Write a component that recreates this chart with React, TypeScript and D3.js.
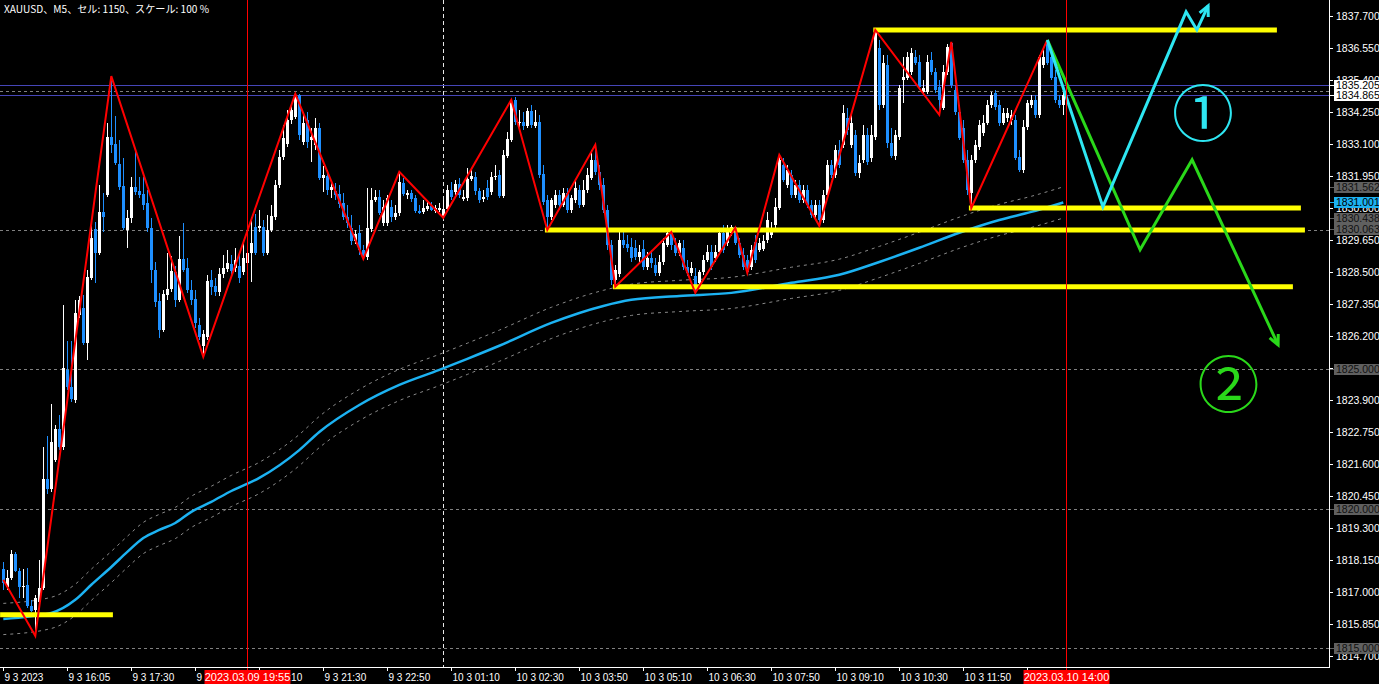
import React from 'react'
import * as d3 from 'd3'

const WIDTH = 1379
const HEIGHT = 684
const PLOT_RIGHT = 1329
const PLOT_BOTTOM = 667

const TITLE = 'XAUUSD、M5、セル: 1150、スケール: 100 %'

// open, high, low, close  (XAUUSD M5, 9 Mar 2023 ~14:45 -> 10 Mar 13:55)
const CANDLES: number[][] = [
  [1817.83, 1818.08, 1817.08, 1817.33], [1817.18, 1817.79, 1817.08, 1817.51], [1817.51, 1818.51, 1817.44, 1818.37],
  [1818.37, 1818.44, 1817.72, 1817.76], [1817.76, 1817.87, 1816.79, 1817.18], [1817.18, 1817.83, 1816.79, 1817.22],
  [1817.26, 1817.87, 1816.43, 1816.50], [1816.50, 1816.72, 1816.29, 1816.32], [1816.36, 1816.90, 1815.42, 1816.79],
  [1816.64, 1818.15, 1816.57, 1817.15], [1817.15, 1822.21, 1817.08, 1821.07], [1821.07, 1822.61, 1820.53, 1820.71],
  [1820.71, 1823.76, 1820.60, 1822.39], [1821.75, 1823.00, 1821.68, 1822.86], [1822.86, 1823.36, 1822.10, 1822.21],
  [1822.21, 1827.32, 1822.10, 1825.05], [1824.98, 1826.02, 1824.26, 1824.37], [1824.37, 1826.02, 1823.83, 1823.94],
  [1823.90, 1827.50, 1823.79, 1827.03], [1826.96, 1827.64, 1826.85, 1827.50], [1827.21, 1827.68, 1825.88, 1825.95],
  [1825.95, 1828.58, 1825.34, 1828.32], [1828.29, 1830.27, 1828.22, 1829.73], [1830.05, 1830.30, 1828.11, 1829.19],
  [1829.19, 1831.63, 1829.12, 1830.66], [1830.66, 1831.34, 1829.94, 1830.48], [1831.27, 1833.86, 1831.20, 1833.36],
  [1833.36, 1835.54, 1832.78, 1833.07], [1833.11, 1834.11, 1832.35, 1832.42], [1832.39, 1833.25, 1831.45, 1831.56],
  [1831.60, 1832.60, 1830.01, 1830.09], [1830.01, 1830.73, 1829.37, 1830.45], [1830.45, 1831.92, 1830.27, 1831.56],
  [1831.56, 1832.89, 1831.27, 1831.38], [1831.42, 1831.92, 1831.16, 1831.27], [1831.31, 1831.92, 1830.73, 1830.91],
  [1830.98, 1831.45, 1829.94, 1830.09], [1830.09, 1830.45, 1828.11, 1828.58], [1828.58, 1828.86, 1827.25, 1827.43],
  [1827.46, 1827.75, 1826.13, 1826.42], [1826.42, 1827.86, 1826.35, 1827.71], [1827.68, 1829.19, 1827.50, 1827.89],
  [1827.89, 1829.08, 1827.79, 1828.54], [1828.50, 1828.72, 1827.25, 1827.50], [1827.50, 1829.80, 1827.43, 1828.97],
  [1828.97, 1830.27, 1828.50, 1828.58], [1828.65, 1829.01, 1827.75, 1827.86], [1827.86, 1828.22, 1827.32, 1827.50],
  [1827.53, 1827.86, 1826.49, 1826.67], [1826.60, 1826.85, 1826.06, 1826.17], [1825.85, 1826.42, 1825.45, 1826.28],
  [1826.17, 1828.40, 1826.06, 1828.18], [1828.22, 1828.58, 1827.68, 1827.97], [1828.00, 1828.29, 1827.64, 1827.79],
  [1827.79, 1828.65, 1827.64, 1828.43], [1828.43, 1829.12, 1828.29, 1828.65], [1828.61, 1829.30, 1828.50, 1828.83],
  [1828.79, 1829.12, 1828.40, 1828.54], [1828.65, 1829.37, 1828.50, 1828.94], [1828.72, 1829.12, 1828.11, 1828.29],
  [1828.50, 1829.65, 1828.40, 1829.01], [1828.83, 1830.55, 1828.72, 1829.19], [1829.19, 1830.48, 1828.15, 1829.55],
  [1830.12, 1830.59, 1829.12, 1829.19], [1830.09, 1830.73, 1829.94, 1830.16], [1830.12, 1830.37, 1829.08, 1829.19],
  [1829.19, 1830.55, 1829.12, 1830.01], [1830.01, 1830.91, 1829.94, 1830.52], [1830.48, 1831.81, 1830.37, 1831.63],
  [1831.63, 1832.89, 1831.52, 1832.64], [1832.64, 1833.79, 1832.53, 1833.32], [1833.11, 1834.33, 1833.00, 1833.97],
  [1833.97, 1834.51, 1833.82, 1834.33], [1834.08, 1834.90, 1834.00, 1834.76], [1834.87, 1834.90, 1833.25, 1833.43],
  [1833.18, 1834.15, 1833.07, 1833.86], [1833.97, 1834.26, 1832.96, 1833.18], [1833.25, 1833.68, 1832.46, 1833.36],
  [1833.07, 1834.04, 1832.89, 1833.68], [1833.68, 1833.86, 1831.81, 1831.88], [1831.88, 1832.31, 1831.38, 1831.99],
  [1831.95, 1832.17, 1831.27, 1831.45], [1831.45, 1831.70, 1831.16, 1831.56], [1831.42, 1831.70, 1831.09, 1831.27],
  [1831.31, 1831.63, 1830.80, 1830.95], [1830.98, 1831.34, 1830.37, 1830.48], [1830.48, 1830.91, 1830.09, 1830.27],
  [1830.09, 1830.55, 1829.48, 1829.62], [1829.62, 1830.01, 1829.51, 1829.87], [1829.91, 1830.19, 1829.12, 1829.30],
  [1829.30, 1829.48, 1828.97, 1829.04], [1829.04, 1831.52, 1828.94, 1830.09], [1830.05, 1831.52, 1829.94, 1831.09],
  [1831.09, 1831.45, 1831.02, 1831.20], [1831.20, 1831.45, 1830.55, 1830.62], [1830.27, 1831.09, 1830.16, 1830.84],
  [1830.27, 1831.27, 1830.16, 1831.16], [1830.84, 1831.09, 1830.30, 1830.48], [1830.48, 1830.91, 1830.37, 1830.62],
  [1830.62, 1832.10, 1830.52, 1831.74], [1831.70, 1831.88, 1831.24, 1831.31], [1831.27, 1831.45, 1831.13, 1831.34],
  [1831.34, 1831.45, 1831.02, 1831.13], [1831.16, 1831.27, 1830.62, 1830.70], [1830.70, 1830.91, 1830.59, 1830.62],
  [1830.66, 1831.09, 1830.59, 1830.80], [1830.77, 1831.09, 1830.70, 1830.88], [1830.88, 1831.02, 1830.70, 1830.73],
  [1830.70, 1830.91, 1830.62, 1830.80], [1830.73, 1830.98, 1830.66, 1830.80], [1830.48, 1831.09, 1830.45, 1830.77],
  [1830.77, 1831.63, 1830.66, 1831.45], [1831.45, 1831.74, 1831.09, 1831.20], [1831.38, 1831.81, 1831.27, 1831.67],
  [1831.67, 1831.88, 1831.16, 1831.27], [1831.13, 1831.45, 1831.06, 1831.20], [1831.16, 1832.24, 1831.06, 1831.85],
  [1831.85, 1832.24, 1831.78, 1831.95], [1831.92, 1832.10, 1831.27, 1831.42], [1831.42, 1831.52, 1830.98, 1831.09],
  [1831.13, 1831.45, 1831.02, 1831.20], [1831.52, 1831.81, 1831.09, 1831.20], [1831.38, 1832.10, 1831.27, 1831.92],
  [1831.92, 1832.35, 1831.81, 1831.95], [1831.99, 1832.17, 1831.16, 1831.24], [1831.24, 1832.89, 1831.16, 1832.71],
  [1832.67, 1833.54, 1832.60, 1833.28], [1833.25, 1834.69, 1833.18, 1834.61], [1834.69, 1834.79, 1833.79, 1833.90],
  [1833.86, 1834.33, 1833.68, 1833.90], [1833.90, 1834.26, 1833.61, 1833.75], [1833.75, 1834.40, 1833.68, 1834.29],
  [1834.29, 1834.51, 1833.68, 1833.79], [1833.75, 1834.33, 1833.68, 1833.90], [1833.90, 1834.15, 1831.88, 1831.99],
  [1832.03, 1832.35, 1830.91, 1831.02], [1831.09, 1831.27, 1830.01, 1830.48], [1830.48, 1831.16, 1830.37, 1831.09],
  [1830.91, 1831.45, 1830.80, 1831.27], [1831.27, 1831.45, 1830.73, 1830.91], [1830.91, 1831.52, 1830.84, 1831.34],
  [1831.34, 1831.52, 1830.62, 1830.73], [1830.73, 1831.27, 1830.62, 1831.16], [1831.09, 1831.81, 1830.98, 1831.52],
  [1831.45, 1831.63, 1830.80, 1830.91], [1830.91, 1831.81, 1830.84, 1831.45], [1831.45, 1832.24, 1831.34, 1831.99],
  [1831.88, 1832.89, 1831.81, 1832.53], [1832.53, 1833.07, 1831.99, 1832.10], [1832.10, 1832.35, 1831.45, 1831.63],
  [1831.63, 1831.88, 1830.62, 1830.73], [1830.73, 1830.91, 1829.30, 1829.48], [1829.48, 1829.65, 1828.04, 1828.22],
  [1828.22, 1828.76, 1827.93, 1828.58], [1828.43, 1830.09, 1828.32, 1829.65], [1829.65, 1830.01, 1829.37, 1829.48],
  [1829.51, 1829.83, 1829.22, 1829.37], [1829.40, 1829.73, 1828.86, 1829.01], [1829.37, 1829.65, 1828.94, 1829.04],
  [1829.04, 1829.48, 1828.86, 1829.22], [1829.33, 1829.65, 1828.58, 1828.68], [1828.68, 1829.22, 1828.58, 1829.01],
  [1829.01, 1829.30, 1828.65, 1828.83], [1828.76, 1829.01, 1828.36, 1828.47], [1828.47, 1829.12, 1828.36, 1828.86],
  [1828.86, 1829.73, 1828.76, 1829.55], [1829.48, 1830.09, 1829.40, 1829.91], [1829.91, 1829.98, 1829.30, 1829.48],
  [1829.48, 1829.73, 1829.08, 1829.19], [1829.19, 1829.65, 1829.08, 1829.55], [1829.37, 1829.65, 1828.58, 1828.68],
  [1828.68, 1828.94, 1828.36, 1828.47], [1828.47, 1828.86, 1828.36, 1828.65], [1828.36, 1828.65, 1827.75, 1827.86],
  [1828.11, 1828.58, 1827.93, 1828.50], [1828.50, 1829.12, 1828.40, 1828.94], [1828.94, 1829.48, 1828.86, 1829.22],
  [1829.22, 1829.48, 1828.58, 1828.68], [1829.01, 1829.48, 1828.86, 1829.22], [1829.22, 1830.09, 1829.12, 1829.91],
  [1829.91, 1830.19, 1829.19, 1829.30], [1829.55, 1830.19, 1829.44, 1830.01], [1829.91, 1830.19, 1829.80, 1830.12],
  [1830.12, 1830.12, 1829.48, 1829.55], [1829.55, 1829.73, 1829.01, 1829.12], [1829.12, 1829.37, 1828.58, 1828.68],
  [1828.94, 1829.12, 1828.47, 1828.50], [1828.68, 1829.48, 1828.58, 1829.30], [1829.58, 1829.83, 1828.83, 1828.94],
  [1829.30, 1829.73, 1829.22, 1829.55], [1829.33, 1829.83, 1829.26, 1829.62], [1829.65, 1830.66, 1829.55, 1830.37],
  [1829.83, 1830.30, 1829.73, 1829.94], [1830.19, 1831.16, 1830.09, 1830.84], [1830.80, 1832.71, 1830.73, 1832.53],
  [1832.35, 1832.60, 1831.74, 1831.81], [1831.63, 1832.35, 1831.52, 1832.17], [1831.99, 1832.17, 1831.16, 1831.27],
  [1831.27, 1831.81, 1831.16, 1831.63], [1831.63, 1831.81, 1830.98, 1831.09], [1831.09, 1831.63, 1830.98, 1831.45],
  [1831.45, 1831.63, 1830.80, 1830.91], [1830.91, 1831.09, 1830.45, 1830.55], [1830.55, 1831.09, 1830.45, 1830.91],
  [1830.91, 1831.09, 1830.16, 1830.37], [1830.37, 1831.45, 1830.27, 1831.27], [1831.27, 1832.53, 1831.16, 1832.35],
  [1832.35, 1832.53, 1831.88, 1831.99], [1831.99, 1833.07, 1831.88, 1832.89], [1832.89, 1833.25, 1832.24, 1832.35],
  [1833.07, 1834.51, 1832.96, 1834.22], [1834.04, 1834.40, 1833.43, 1833.61], [1833.07, 1834.15, 1832.96, 1833.86],
  [1833.43, 1833.61, 1831.95, 1832.06], [1832.06, 1832.71, 1831.88, 1832.42], [1832.53, 1833.79, 1832.42, 1833.43],
  [1833.43, 1833.68, 1832.35, 1832.46], [1832.60, 1833.79, 1832.46, 1833.43], [1833.36, 1837.20, 1833.25, 1837.13],
  [1836.55, 1836.84, 1834.33, 1834.51], [1834.51, 1836.30, 1834.40, 1836.02], [1835.94, 1836.30, 1832.96, 1833.14],
  [1833.14, 1833.68, 1832.60, 1832.67], [1832.67, 1833.61, 1832.53, 1833.43], [1833.36, 1835.22, 1833.25, 1835.12],
  [1835.40, 1836.23, 1834.58, 1835.51], [1835.47, 1836.41, 1835.40, 1836.23], [1835.69, 1836.55, 1835.58, 1836.37],
  [1836.23, 1836.48, 1835.94, 1836.02], [1836.05, 1836.30, 1835.04, 1835.15], [1834.97, 1835.40, 1834.87, 1835.12],
  [1834.97, 1836.30, 1834.90, 1836.05], [1836.12, 1836.41, 1835.58, 1835.69], [1835.69, 1835.84, 1834.94, 1835.04],
  [1835.15, 1835.40, 1834.15, 1834.69], [1834.40, 1835.94, 1834.33, 1835.69], [1835.69, 1836.70, 1835.58, 1836.59],
  [1836.73, 1836.77, 1835.12, 1835.22], [1835.04, 1835.22, 1834.15, 1834.26], [1834.26, 1834.51, 1833.25, 1833.32],
  [1833.68, 1833.97, 1832.42, 1832.53], [1832.53, 1832.89, 1831.27, 1831.45], [1831.34, 1832.71, 1830.80, 1832.53],
  [1832.53, 1833.25, 1832.42, 1833.07], [1833.00, 1833.97, 1832.89, 1833.79], [1833.50, 1834.15, 1833.39, 1833.86],
  [1833.86, 1834.69, 1833.79, 1834.51], [1834.51, 1834.97, 1834.40, 1834.87], [1834.94, 1835.04, 1834.33, 1834.43],
  [1834.51, 1834.69, 1833.75, 1833.86], [1833.86, 1834.40, 1833.79, 1834.22], [1834.04, 1834.40, 1833.90, 1834.22],
  [1833.97, 1834.33, 1833.79, 1834.15], [1833.97, 1834.15, 1832.53, 1832.60], [1832.64, 1832.89, 1832.10, 1832.17],
  [1832.17, 1833.97, 1832.06, 1833.72], [1833.72, 1834.69, 1833.61, 1834.58], [1834.51, 1834.87, 1834.40, 1834.69],
  [1834.69, 1834.87, 1834.04, 1834.15], [1834.15, 1836.30, 1834.04, 1836.23], [1835.94, 1836.48, 1835.84, 1836.23],
  [1836.77, 1836.84, 1835.94, 1836.02], [1836.23, 1836.48, 1835.40, 1835.47], [1835.51, 1835.76, 1834.58, 1834.69],
  [1834.69, 1834.87, 1834.40, 1834.51], [1834.51, 1835.04, 1834.15, 1834.87],
]

// moving average: [bar index, price]
const MA_POINTS: [number, number][] = [
  [0, 1816.03], [12, 1816.25], [18, 1816.72], [22, 1817.26], [27, 1817.90], [31, 1818.44], [35, 1818.94],
  [39, 1819.23], [43, 1819.48], [47, 1819.88], [52, 1820.24], [57, 1820.63], [64, 1821.10], [74, 1822.10],
  [79, 1822.75], [89, 1823.72], [99, 1824.44], [109, 1824.98], [116, 1825.38], [124, 1825.85], [137, 1826.67],
  [150, 1827.28], [157, 1827.50], [169, 1827.64], [182, 1827.75], [197, 1828.11], [209, 1828.40], [219, 1828.86],
  [229, 1829.37], [239, 1829.91], [249, 1830.37], [257, 1830.66], [265, 1831.00],
]
const ENVELOPE = 0.561

const ZIGZAG: [number, number][] = [
  [0, 1817.44], [8, 1815.42], [27, 1835.54], [50, 1825.45], [73, 1834.90], [90, 1828.97], [99, 1832.10],
  [110, 1830.45], [127, 1834.69], [136, 1830.01], [148, 1833.07], [153, 1827.97], [167, 1829.94], [173, 1827.75],
  [183, 1830.09], [186, 1828.47], [194, 1832.71], [204, 1830.16], [218, 1837.20], [234, 1834.15], [237, 1836.77],
  [242, 1830.80], [261, 1836.84],
]

// yellow trend lines: [from bar, to bar, price]
const LEVELS: [number, number, number][] = [
  [217.5, 318.4, 1837.20], [241.4, 324.4, 1830.80], [135.4, 325.4, 1830.01], [152.4, 322.4, 1827.97], [-0.8, 27.4, 1816.18],
]

const SCENARIO_1: [number, number][] = [[261, 1836.84], [274.9, 1830.84], [295.7, 1837.85], [298.4, 1837.20], [301.2, 1838.06]]
const SCENARIO_2: [number, number][] = [[261, 1836.84], [284.2, 1829.30], [297.2, 1832.53], [318.7, 1825.88]]
const SCENARIO_LABELS: [number, number, string, string][] = [
  [299.9, 1834.32, '①', '#2ee6f2'], [306.3, 1824.60, '②', '#2ad81a'],
]

const PRICE_TICKS = [
  1837.7, 1836.55, 1835.4, 1834.25, 1833.1, 1831.95, 1830.8, 1829.65, 1828.5, 1827.35, 1826.2, 1825.05,
  1823.9, 1822.75, 1821.6, 1820.45, 1819.3, 1818.15, 1817.0, 1815.85, 1814.7,
]
const ROUND_LEVELS = [1835, 1830, 1825, 1820, 1815]
const PRICE_LINES = [1835.205, 1834.865]
// price tags on the right scale: [price, background, text]
const PRICE_TAGS: [number, string, string][] = [
  [1835.205, '#ffffff', '#000000'], [1834.865, '#ffffff', '#000000'], [1831.562, '#606060', '#101010'],
  [1831.001, '#1cb2f2', '#000000'], [1830.438, '#606060', '#101010'], [1830.063, '#606060', '#101010'],
  [1825.0, '#606060', '#101010'], [1820.0, '#606060', '#101010'], [1815.0, '#606060', '#101010'],
]

const TIME_TICKS: [number, string][] = [
  [0, '9 3 2023'], [16, '9 3 16:05'], [32, '9 3 17:30'], [48, '9 3 18:50'], [64, '9 3 20:10'], [80, '9 3 21:30'],
  [96, '9 3 22:50'], [112, '10 3 01:10'], [128, '10 3 02:30'], [144, '10 3 03:50'], [160, '10 3 05:10'],
  [176, '10 3 06:30'], [192, '10 3 07:50'], [208, '10 3 09:10'], [224, '10 3 10:30'], [240, '10 3 11:50'],
  [256, '10 3 13:10'],
]
const DAY_BREAKS = [110]
const CURSOR_MARKS: [number, string][] = [[61.1, '2023.03.09 19:55'], [265.9, '2023.03.10 14:00']]

const FONT = '"Liberation Sans", Arial, sans-serif'

function arrowHead(pts: [number, number][], len = 11, spread = 0.45) {
  const [x1, y1] = pts[pts.length - 2]
  const [x2, y2] = pts[pts.length - 1]
  const a = Math.atan2(y1 - y2, x1 - x2)
  const p1 = [x2 + len * Math.cos(a + spread), y2 + len * Math.sin(a + spread)]
  const p2 = [x2 + len * Math.cos(a - spread), y2 + len * Math.sin(a - spread)]
  return `M${p1[0]},${p1[1]}L${x2},${y2}L${p2[0]},${p2[1]}`
}

export default function App() {
  const x = d3.scaleLinear().domain([0, 331]).range([3.3, 3.3 + 4 * 331])
  const y = d3.scaleLinear().domain([1814.305, 1838.275]).range([PLOT_BOTTOM, 0])

  const maLine = d3.line<[number, number]>().x(d => x(d[0])).y(d => y(d[1])).curve(d3.curveMonotoneX)
  const upper = MA_POINTS.map(([i, p]) => [i, p + ENVELOPE] as [number, number])
  const lower = MA_POINTS.map(([i, p]) => [i, p - ENVELOPE] as [number, number])
  const poly = d3.line<[number, number]>().x(d => x(d[0])).y(d => y(d[1]))
  const px = (pts: [number, number][]) => pts.map(([i, p]) => [x(i), y(p)] as [number, number])

  return (
    <svg width={WIDTH} height={HEIGHT} style={{ position: 'absolute', left: 0, top: 0, display: 'block' }}>
      <rect width={WIDTH} height={HEIGHT} fill="#000" />

      {ROUND_LEVELS.map(p => (
        <line key={p} x1={0} x2={PLOT_RIGHT} y1={Math.round(y(p)) + 0.5} y2={Math.round(y(p)) + 0.5}
          stroke="#808080" strokeDasharray="3,3" />
      ))}
      {DAY_BREAKS.map(i => (
        <line key={i} x1={Math.floor(x(i)) + 0.5} x2={Math.floor(x(i)) + 0.5} y1={0} y2={PLOT_BOTTOM}
          stroke="#e8e8e8" strokeDasharray="4,3" />
      ))}
      {PRICE_LINES.map(p => (
        <line key={p} x1={0} x2={PLOT_RIGHT} y1={Math.round(y(p)) + 0.5} y2={Math.round(y(p)) + 0.5}
          stroke="#4646b8" strokeWidth={1.2} />
      ))}

      <path d={maLine(upper) || ''} fill="none" stroke="#8a8a8a" strokeDasharray="3,4" />
      <path d={maLine(lower) || ''} fill="none" stroke="#8a8a8a" strokeDasharray="3,4" />
      <path d={maLine(MA_POINTS) || ''} fill="none" stroke="#1cb2f2" strokeWidth={2.5} />

      {CANDLES.map(([o, h, l, c], i) => {
        const cx = Math.floor(x(i))
        const bull = c >= o
        const col = bull ? '#ffffff' : '#1e8fff'
        const top = Math.round(y(Math.max(o, c)))
        const bot = Math.round(y(Math.min(o, c)))
        return (
          <g key={i}>
            <line x1={cx + 0.5} x2={cx + 0.5} y1={Math.round(y(h))} y2={Math.round(y(l))} stroke={col} />
            <rect x={cx - 1} y={top} width={3} height={Math.max(1, bot - top)} fill={col} />
          </g>
        )
      })}

      {LEVELS.map(([a, b, p], k) => (
        <line key={k} x1={x(a)} x2={x(b)} y1={y(p)} y2={y(p)} stroke="#ffff00" strokeWidth={5} />
      ))}

      <path d={poly(ZIGZAG) || ''} fill="none" stroke="#ff0000" strokeWidth={2} />

      <path d={poly(SCENARIO_2) || ''} fill="none" stroke="#2ad81a" strokeWidth={3} />
      <path d={arrowHead(px(SCENARIO_2))} fill="none" stroke="#2ad81a" strokeWidth={3} />
      <path d={poly(SCENARIO_1) || ''} fill="none" stroke="#2ee6f2" strokeWidth={3} />
      <path d={arrowHead(px(SCENARIO_1))} fill="none" stroke="#2ee6f2" strokeWidth={3} />

      {SCENARIO_LABELS.map(([i, p, t, col]) => (
        <text key={t} x={x(i)} y={y(p)} fill={col} fontSize={62} textAnchor="middle" dominantBaseline="central"
          fontFamily='"Noto Sans CJK JP", sans-serif'>{t}</text>
      ))}

      {CURSOR_MARKS.map(([i]) => (
        <line key={i} x1={Math.floor(x(i)) + 0.5} x2={Math.floor(x(i)) + 0.5} y1={0} y2={671} stroke="#ff0000" />
      ))}

      {/* frame */}
      <line x1={PLOT_RIGHT + 0.5} x2={PLOT_RIGHT + 0.5} y1={0} y2={PLOT_BOTTOM + 1} stroke="#fff" />
      <line x1={0} x2={PLOT_RIGHT + 1} y1={PLOT_BOTTOM + 0.5} y2={PLOT_BOTTOM + 0.5} stroke="#fff" />

      {PRICE_TICKS.map(p => {
        const ty = Math.round(y(p)) + 0.5
        return (
          <g key={p}>
            <line x1={PLOT_RIGHT} x2={PLOT_RIGHT + 4} y1={ty} y2={ty} stroke="#fff" />
            <text x={PLOT_RIGHT + 7} y={ty + 3.6} fill="#fff" fontSize={10.5} fontFamily={FONT}>{p.toFixed(3)}</text>
          </g>
        )
      })}
      {PRICE_TAGS.map(([p, bg, fg]) => {
        const ty = y(p)
        return (
          <g key={p}>
            <line x1={PLOT_RIGHT + 1} x2={PLOT_RIGHT + 5} y1={Math.round(ty) + 0.5} y2={Math.round(ty) + 0.5} stroke={bg} />
            <rect x={PLOT_RIGHT + 5} y={Math.round(ty) - 5} width={WIDTH - PLOT_RIGHT - 5} height={11} fill={bg} />
            <text x={PLOT_RIGHT + 7} y={Math.round(ty) + 4} fill={fg} fontSize={10.5} fontFamily={FONT}>{p.toFixed(3)}</text>
          </g>
        )
      })}

      {TIME_TICKS.map(([i, label]) => {
        const tx = Math.floor(x(i)) + 0.5
        return (
          <g key={i}>
            <line x1={tx} x2={tx} y1={PLOT_BOTTOM} y2={PLOT_BOTTOM + 4} stroke="#fff" />
            <text x={tx + 1} y={681} fill="#fff" fontSize={10} fontFamily={FONT}>{label}</text>
          </g>
        )
      })}
      {CURSOR_MARKS.map(([i, label]) => {
        const cx = Math.floor(x(i)) + 0.5
        return (
          <g key={label}>
            <rect x={cx - 43} y={670} width={86} height={14} fill="#ff0000" />
            <text x={cx} y={681} fill="#fff" fontSize={11} textAnchor="middle" fontFamily={FONT}>{label}</text>
          </g>
        )
      })}

      <text x={4} y={13} fill="#fff" fontSize={10.5} textLength={205} lengthAdjust="spacingAndGlyphs"
        fontFamily='"Noto Sans CJK JP", sans-serif'>{TITLE}</text>
    </svg>
  )
}
